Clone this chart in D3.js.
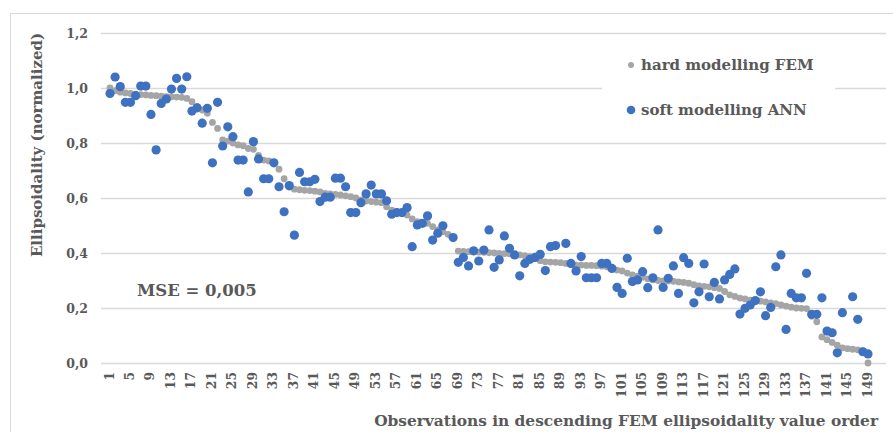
<!DOCTYPE html>
<html>
<head>
<meta charset="utf-8">
<script src="https://cdn.jsdelivr.net/npm/d3@7"></script>
<style>
  html, body { margin: 0; padding: 0; background: #fff; }
  svg { display: block; }
  text { font-family: "DejaVu Serif", serif; font-weight: bold; fill: #595959; }
</style>
</head>
<body>
<svg id="chart" width="893" height="432"></svg>
<script>
// ---- data ----
const observations = d3.range(1, 150); // categories 1..149
const xTickLabels = [1,5,9,13,17,21,25,29,33,37,41,45,49,53,57,61,65,69,73,77,81,85,89,93,97,101,105,109,113,117,121,125,129,133,137,141,145,149];
const yTickValues = [0, 0.2, 0.4, 0.6, 0.8, 1.0, 1.2];

// hard modelling FEM (grey)
const femValues = [
  1.0, 0.99, 0.985, 0.982, 0.98, 0.978, 0.976, 0.975, 0.973, 0.972,
  0.97, 0.969, 0.968, 0.967, 0.966, 0.962, 0.95, 0.932, 0.92, 0.908,
  0.875, 0.853, 0.811, 0.807, 0.80, 0.793, 0.79, 0.78, 0.777, 0.755,
  0.738, 0.735, 0.728, 0.705, 0.67, 0.64, 0.632, 0.63, 0.628, 0.627,
  0.625, 0.622, 0.617, 0.615, 0.613, 0.611, 0.608, 0.605, 0.60, 0.593,
  0.589, 0.587, 0.585, 0.583, 0.568, 0.556, 0.55, 0.544, 0.538, 0.524,
  0.514, 0.51, 0.508, 0.496, 0.484, 0.477, 0.468, 0.457, 0.407, 0.406,
  0.405, 0.404, 0.403, 0.402, 0.401, 0.40, 0.399, 0.398, 0.397, 0.395,
  0.393, 0.39, 0.387, 0.38, 0.372, 0.368, 0.367, 0.366, 0.365, 0.362,
  0.358, 0.356, 0.356, 0.355, 0.355, 0.354, 0.352, 0.35, 0.344, 0.338,
  0.335, 0.327, 0.32, 0.316, 0.312, 0.306, 0.302, 0.30, 0.299, 0.298,
  0.297, 0.295, 0.293, 0.29, 0.285, 0.28, 0.279, 0.277, 0.274, 0.271,
  0.26, 0.248, 0.242, 0.236, 0.233, 0.229, 0.227, 0.225, 0.222, 0.219,
  0.216, 0.211, 0.207, 0.203, 0.2, 0.199, 0.198, 0.17, 0.15, 0.095,
  0.085, 0.075, 0.065, 0.055, 0.052, 0.05, 0.048, 0.044, 0.0
];

// soft modelling ANN (blue); null = not visible in the picture
const annValues = [
  0.98, 1.04, 1.005, 0.948, 0.948, 0.972, 1.007, 1.007, 0.904, 0.775,
  0.944, 0.96, 0.996, 1.035, 0.996, 1.041, 0.916, 0.928, 0.872, 0.926,
  0.728, 0.948, 0.789, 0.859, 0.823, 0.738, 0.738, 0.622, 0.805, 0.742,
  0.670, 0.670, 0.728, 0.641, 0.550, 0.645, 0.465, 0.693, 0.659, 0.659,
  0.668, 0.587, 0.603, 0.603, 0.672, 0.672, 0.641, 0.547, 0.547, 0.583,
  0.615, 0.647, 0.615, 0.615, 0.590, 0.541, 0.547, 0.547, 0.565, 0.423,
  0.502, 0.508, 0.535, 0.447, 0.472, 0.499, null, 0.456, 0.366, 0.384,
  0.353, 0.408, 0.371, 0.411, 0.484, 0.348, 0.375, 0.462, 0.417, 0.393,
  0.317, 0.362, 0.377, 0.384, 0.395, 0.336, 0.423, 0.427, null, 0.435,
  0.362, 0.335, 0.387, 0.310, 0.310, 0.310, 0.362, 0.362, 0.344, 0.275,
  0.253, 0.381, 0.296, 0.302, 0.332, 0.274, 0.310, 0.484, 0.275, 0.308,
  0.353, 0.253, 0.383, 0.362, 0.219, 0.259, 0.360, 0.241, 0.293, 0.233,
  0.302, 0.322, 0.342, 0.178, 0.199, 0.211, 0.227, 0.259, 0.172, 0.202,
  0.350, 0.393, 0.122, 0.253, 0.237, 0.237, 0.326, 0.177, 0.177, 0.237,
  0.116, 0.110, 0.037, 0.183, null, 0.241, 0.159, 0.041, 0.033
];

const seriesNames = ["hard modelling FEM", "soft modelling ANN"];
const yAxisTitle = "Ellipsoidality (normalized)";
const xAxisTitle = "Observations in descending FEM ellipsoidality value order";
const mseLabel = "MSE = 0,005";

// ---- drawing ----
const svg = d3.select("#chart");
const colors = { fem: "#a5a5a5", ann: "#3f71c1" };

// outer chart border
svg.append("rect")
  .attr("x", 10.5).attr("y", 13.5).attr("width", 900).attr("height", 430)
  .attr("fill", "#fff").attr("stroke", "#d9d9d9").attr("stroke-width", 1);

const plot = { left: 101, right: 886, top: 33, bottom: 363 };
const x = d3.scaleLinear().domain([1, 149]).range([110, 868]);
const y = d3.scaleLinear().domain([0, 1.2]).range([plot.bottom, plot.top]);

// y axis with gridlines
const yAxis = d3.axisLeft(y)
  .tickValues(yTickValues)
  .tickSize(-(plot.right - plot.left))
  .tickPadding(13)
  .tickFormat(d => d3.format(".1f")(d).replace(".", ","));

const gy = svg.append("g")
  .attr("transform", `translate(${plot.left},0)`)
  .call(yAxis);
gy.select(".domain").remove();
gy.selectAll(".tick line").attr("stroke", "#d9d9d9").attr("stroke-width", 1.3);
gy.selectAll(".tick text")
  .attr("font-size", 12.5)
  .attr("font-family", "DejaVu Serif")
  .attr("font-weight", "bold")
  .attr("fill", "#595959");

// x tick labels (rotated)
const gx = svg.append("g");
gx.selectAll("text")
  .data(xTickLabels)
  .join("text")
  .attr("transform", d => `translate(${x(d) - 1},372) rotate(-90)`)
  .attr("text-anchor", "end")
  .attr("dominant-baseline", "central")
  .attr("font-size", 12.3)
  .text(d => d);

// FEM points
svg.append("g")
  .selectAll("circle")
  .data(observations.map((o, i) => ({ o, v: femValues[i] })))
  .join("circle")
  .attr("cx", d => x(d.o))
  .attr("cy", d => y(d.v))
  .attr("r", 3.4)
  .attr("fill", colors.fem);

// ANN points
svg.append("g")
  .selectAll("circle")
  .data(observations.map((o, i) => ({ o, v: annValues[i] })).filter(d => d.v != null))
  .join("circle")
  .attr("cx", d => x(d.o))
  .attr("cy", d => y(d.v))
  .attr("r", 4.6)
  .attr("fill", colors.ann);

// legend
const lg = svg.append("g");
lg.append("rect").attr("x", 602).attr("y", 45).attr("width", 233).attr("height", 85).attr("fill", "#fff");
const legendItems = [
  { name: seriesNames[0], color: colors.fem, r: 3, cy: 65 },
  { name: seriesNames[1], color: colors.ann, r: 4.3, cy: 110 }
];
legendItems.forEach(it => {
  lg.append("circle").attr("cx", 631).attr("cy", it.cy).attr("r", it.r).attr("fill", it.color);
  lg.append("text").attr("x", 641).attr("y", it.cy)
    .attr("dominant-baseline", "central")
    .attr("font-size", 15)
    .text(it.name);
});

// MSE annotation
svg.append("text")
  .attr("x", 137).attr("y", 290)
  .attr("dominant-baseline", "central")
  .attr("font-size", 16.5)
  .text(mseLabel);

// axis titles
svg.append("text")
  .attr("transform", "translate(37,145) rotate(-90)")
  .attr("text-anchor", "middle")
  .attr("dominant-baseline", "central")
  .attr("font-size", 15)
  .text(yAxisTitle);

svg.append("text")
  .attr("x", 878).attr("y", 421)
  .attr("text-anchor", "end")
  .attr("dominant-baseline", "central")
  .attr("font-size", 15.4)
  .text(xAxisTitle);
</script>
</body>
</html>
